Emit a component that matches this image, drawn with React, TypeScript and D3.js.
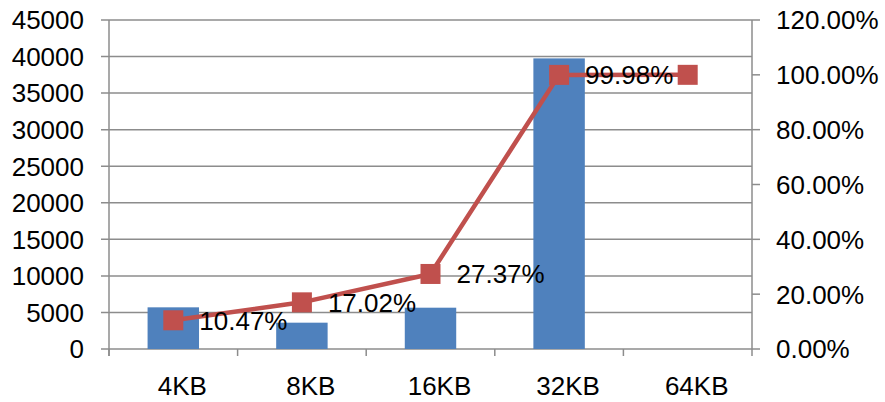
import React from "react";
import * as d3 from "d3";

const categories = ["4KB", "8KB", "16KB", "32KB", "64KB"];
const counts = [5700, 3600, 5650, 39750, 0];
const ratios = [10.47, 17.02, 27.37, 99.98, 100];
const ratioLabels = ["10.47%", "17.02%", "27.37%", "99.98%", ""];
const leftTicks = [0, 5000, 10000, 15000, 20000, 25000, 30000, 35000, 40000, 45000];
const rightTicks = [0, 20, 40, 60, 80, 100, 120];

const W = 885;
const H = 402;
const margin = { left: 109, right: 133, top: 20, bottom: 53 };
const FONT = "'Liberation Sans', Arial, sans-serif";
const FS = 26;
const GRID = "#8c8c8c";
const BAR = "#4F81BD";
const LINE = "#C0504D";

export default function App() {
  const x0 = margin.left;
  const x1 = W - margin.right;
  const y0 = H - margin.bottom;
  const y1 = margin.top;

  const x = d3.scaleBand<string>().domain(categories).range([x0, x1]).padding(0);
  const yL = d3.scaleLinear().domain([0, 45000]).range([y0, y1]);
  const yR = d3.scaleLinear().domain([0, 120]).range([y0, y1]);
  const bw = x.bandwidth();
  const barW = bw * 0.4;
  const cx = (c: string) => (x(c) as number) + bw / 2;

  const line = d3
    .line<number>()
    .x((_, i) => cx(categories[i]))
    .y((d) => yR(d));

  const ms = 20;

  return (
    <svg
      width={W}
      height={H}
      style={{ position: "absolute", left: 0, top: 0, background: "#fff" }}
      fontFamily={FONT}
    >
      {/* horizontal gridlines with left tick marks */}
      {leftTicks.map((t) => (
        <g key={"l" + t}>
          <line x1={x0 - 8} x2={x1} y1={yL(t)} y2={yL(t)} stroke={GRID} strokeWidth={1.5} />
          <text x={84} y={yL(t)} dy="0.36em" textAnchor="end" fontSize={FS} fill="#000">
            {t}
          </text>
        </g>
      ))}
      {/* left axis */}
      <line x1={x0} x2={x0} y1={y1} y2={y0 + 7} stroke={GRID} strokeWidth={1.5} />
      {/* right axis */}
      <line x1={x1} x2={x1} y1={y1} y2={y0 + 7} stroke={GRID} strokeWidth={1.5} />
      {rightTicks.map((t) => (
        <g key={"r" + t}>
          <line x1={x1} x2={x1 + 8} y1={yR(t)} y2={yR(t)} stroke={GRID} strokeWidth={1.5} />
          <text x={776} y={yR(t)} dy="0.36em" textAnchor="start" fontSize={FS} fill="#000">
            {t.toFixed(2) + "%"}
          </text>
        </g>
      ))}
      {/* category ticks */}
      {categories.map((c) => (
        <line
          key={"ct" + c}
          x1={x(c) as number}
          x2={x(c) as number}
          y1={y0}
          y2={y0 + 7}
          stroke={GRID}
          strokeWidth={1.5}
        />
      ))}
      {/* bars */}
      {categories.map((c, i) => (
        <rect
          key={"b" + c}
          x={cx(c) - barW / 2}
          y={yL(counts[i])}
          width={barW}
          height={y0 - yL(counts[i])}
          fill={BAR}
        />
      ))}
      {/* category labels */}
      {categories.map((c) => (
        <text key={"cl" + c} x={cx(c) + 9} y={395} textAnchor="middle" fontSize={FS} fill="#000">
          {c}
        </text>
      ))}
      {/* ratio line */}
      <path d={line(ratios) || ""} fill="none" stroke={LINE} strokeWidth={4.5} strokeLinejoin="round" />
      {ratios.map((r, i) => (
        <rect
          key={"m" + i}
          x={cx(categories[i]) - ms / 2}
          y={yR(r) - ms / 2}
          width={ms}
          height={ms}
          fill={LINE}
        />
      ))}
      {ratios.map((r, i) =>
        ratioLabels[i] ? (
          <text
            key={"rl" + i}
            x={cx(categories[i]) + 26}
            y={yR(r)}
            dy="0.36em"
            fontSize={FS}
            fill="#000"
          >
            {ratioLabels[i]}
          </text>
        ) : null
      )}
    </svg>
  );
}
